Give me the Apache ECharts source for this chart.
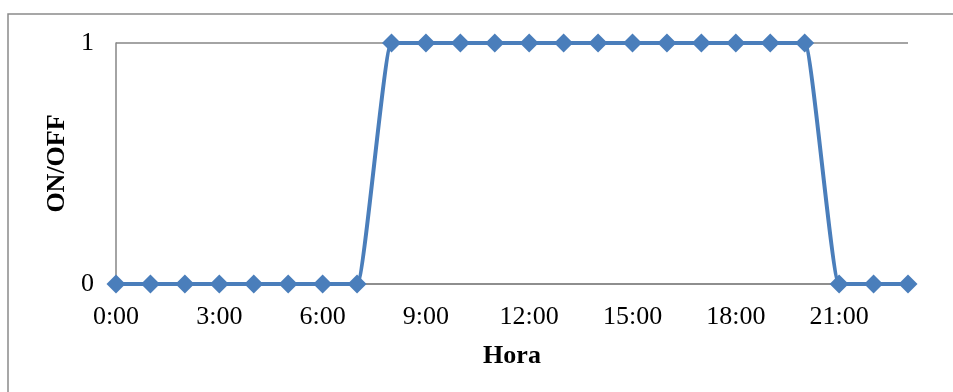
<!DOCTYPE html>
<html>
<head>
<meta charset="utf-8">
<script src="https://cdn.jsdelivr.net/npm/echarts@6/dist/echarts.min.js"></script>
<style>html,body{margin:0;padding:0;background:#fff}#c{width:953px;height:392px}</style>
</head>
<body>
<div id="c"></div>
<script>
const hours = ['0:00','1:00','2:00','3:00','4:00','5:00','6:00','7:00','8:00','9:00','10:00','11:00','12:00','13:00','14:00','15:00','16:00','17:00','18:00','19:00','20:00','21:00','22:00','23:00'];
const onOff = [0,0,0,0,0,0,0,0,1,1,1,1,1,1,1,1,1,1,1,1,1,0,0,0];
const yTicks = [0, 1];

const chart = echarts.init(document.getElementById('c'), null, {renderer: 'canvas'});
const font = '"Liberation Serif", "Times New Roman", serif';
chart.setOption({
  animation: false,
  backgroundColor: '#fff',
  graphic: [{
    type: 'rect', silent: true,
    shape: {x: 8, y: 14, width: 1000, height: 1000},
    style: {fill: 'none', stroke: '#8a8a8a', lineWidth: 1.5}
  }],
  grid: {left: 116, right: 45, top: 43, bottom: 108, containLabel: false},
  xAxis: {
    type: 'category', data: hours, boundaryGap: false,
    name: 'Hora', nameLocation: 'middle', nameGap: 59,
    nameTextStyle: {fontFamily: font, fontSize: 26, fontWeight: 'bold', color: '#000'},
    axisLine: {lineStyle: {color: '#868686', width: 1.5}},
    axisTick: {show: false},
    axisLabel: {interval: 2, fontFamily: font, fontSize: 26, color: '#000', margin: 20},
    splitLine: {show: false}
  },
  yAxis: {
    type: 'value', min: yTicks[0], max: yTicks[1], interval: 1,
    name: 'ON/OFF', nameLocation: 'middle', nameGap: 45, nameRotate: 90,
    nameTextStyle: {fontFamily: font, fontSize: 26, fontWeight: 'bold', color: '#000'},
    axisLine: {show: true, lineStyle: {color: '#868686', width: 1.5}},
    axisTick: {show: false},
    axisLabel: {fontFamily: font, fontSize: 26, color: '#000', margin: 22},
    splitLine: {show: true, lineStyle: {color: '#868686', width: 1.5}}
  },
  series: [{
    type: 'line', data: onOff, smooth: 0.12,
    lineStyle: {color: '#4a7ebb', width: 4},
    itemStyle: {color: '#4a7ebb'},
    symbol: 'diamond', symbolSize: 19, showSymbol: true
  }]
});
</script>
</body>
</html>
